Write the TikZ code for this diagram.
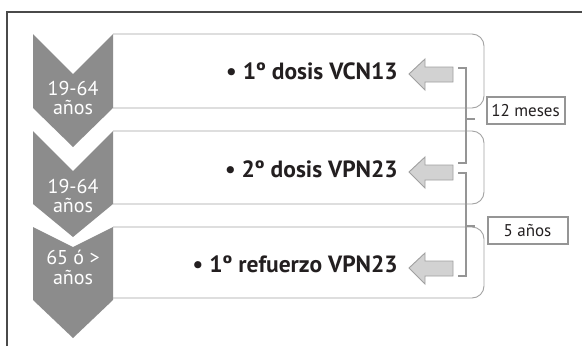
\documentclass[tikz,border=0pt]{standalone}
\usepackage{fontspec}
\setmainfont{PT Sans}
\definecolor{chevgray}{HTML}{8C8C8C}
\definecolor{boxline}{HTML}{A3A3A3}
\definecolor{arrowfill}{HTML}{D2D2D2}
\definecolor{arrowline}{HTML}{A0A0A0}
\definecolor{bracketgray}{HTML}{959595}
\definecolor{framegray}{HTML}{4A4A4A}
\definecolor{inkdark}{HTML}{231F20}
\begin{document}
\begin{tikzpicture}[x=1pt,y=-1pt,
  chevron/.style={fill=chevgray,draw=none},
  itembox/.style={draw=boxline,line width=0.9pt,rounded corners=12pt},
  leftarrow/.style={fill=arrowfill,draw=arrowline,line width=0.9pt,line join=miter},
  bracketline/.style={draw=bracketgray,line width=2pt},
  periodbox/.style={draw=bracketgray,line width=2pt,fill=white,inner sep=0pt,
    minimum width=78pt,minimum height=27pt,font=\fontsize{17}{19}\selectfont,text=inkdark},
  agetext/.style={text=white,align=center,font=\fontsize{20}{20}\selectfont,inner sep=0pt},
  itemtext/.style={anchor=base east,inner sep=0pt,text=inkdark,font=\bfseries\fontsize{23.5}{25}\selectfont}]
\useasboundingbox (0,0) rectangle (582,346);
\fill[white] (0,0) rectangle (582,346);
% cropped outer frame
\draw[framegray,line width=1.4pt] (7,346) -- (7,12) -- (582,12);

% item boxes (open on the chevron side)
\draw[itembox] (113,34) -- (484,34) -- (484,108) -- (113,108);
\draw[itembox] (113,131) -- (484,131) -- (484,204) -- (113,204);
\draw[itembox] (113,227) -- (484,227) -- (484,298) -- (113,298);

% chevrons
\fill[chevron] (33,34) -- (73,74) -- (113,34) -- (113,108) -- (73,147) -- (33,108) -- cycle;
\fill[chevron] (33,131) -- (73,171) -- (113,131) -- (113,204) -- (73,237) -- (33,204) -- cycle;
\fill[chevron] (33,227) -- (73,247) -- (113,227) -- (113,300) -- (73,338) -- (33,300) -- cycle;

\node[agetext,anchor=base] (age1a) at (73,95) {19-64};
\node[agetext,anchor=base] (age1b) at (73,114) {años};
\node[agetext,anchor=base] (age2a) at (73,193) {19-64};
\node[agetext,anchor=base] (age2b) at (73,212) {años};
\node[agetext,anchor=base] (age3a) at (73,264) {65 ó >};
\node[agetext,anchor=base] (age3b) at (73,284) {años};

% item texts
\node[itemtext] (item1) at (398,79) {• 1º dosis VCN13};
\node[itemtext] (item2) at (398,177) {• 2º dosis VPN23};
\node[itemtext] (item3) at (398,272) {• 1º refuerzo VPN23};

% block arrows pointing to the items
\foreach \y in {74,172,268}{
  \draw[leftarrow] (409,\y) -- (425,\y-15) -- (425,\y-7) -- (453,\y-7)
     -- (453,\y+8) -- (425,\y+8) -- (425,\y+16) -- cycle;
}

% interval brackets
\coordinate (b1t) at (458,68);
\coordinate (b1b) at (458,163);
\coordinate (b1m) at (466,119);
\coordinate (b2t) at (458,173);
\coordinate (b2b) at (458,276);
\coordinate (b2m) at (466,226);
\draw[bracketline] (b1t) -- ++(8,0) |- (b1b);
\draw[bracketline] (b1m) -- ++(9,0);
\draw[bracketline] (b2t) -- ++(8,0) |- (b2b);
\draw[bracketline] (b2m) -- ++(9,0);

\node[periodbox] (p1) at (525.5,110.5) {12 meses};
\node[periodbox,minimum width=80pt] (p2) at (527.5,230.5) {5 años};
\end{tikzpicture}
\end{document}
